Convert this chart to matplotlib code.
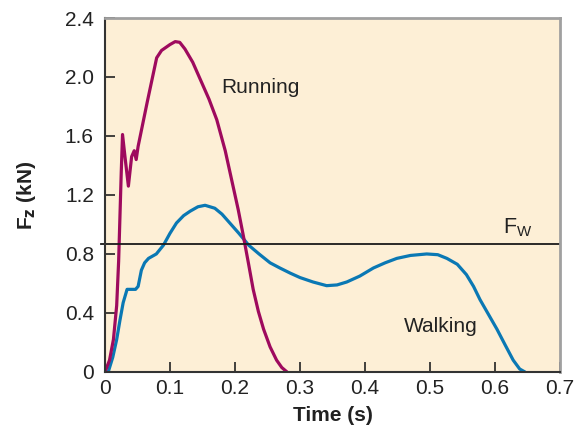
import matplotlib
matplotlib.use("Agg")
from matplotlib import pyplot as plt

plt.rcParams['font.family'] = ['Liberation Sans', 'DejaVu Sans']

# data (time in s, force in kN)
run_t = [0.0, 0.007, 0.013, 0.018, 0.021, 0.023, 0.025, 0.027, 0.031, 0.036, 0.041, 0.045,
         0.048, 0.051, 0.065, 0.0795, 0.087, 0.1, 0.108, 0.115, 0.123, 0.135, 0.146, 0.16,
         0.172, 0.185, 0.197, 0.205, 0.213, 0.221, 0.228, 0.236, 0.244, 0.254, 0.264, 0.272, 0.28]
run_f = [0.0, 0.08, 0.22, 0.45, 0.75, 1.05, 1.35, 1.61, 1.45, 1.26, 1.46, 1.50,
         1.44, 1.53, 1.83, 2.13, 2.18, 2.22, 2.24, 2.235, 2.19, 2.10, 1.99, 1.85,
         1.71, 1.50, 1.26, 1.10, 0.92, 0.73, 0.56, 0.41, 0.29, 0.17, 0.08, 0.03, 0.0]

walk_t = [0.005, 0.012, 0.018, 0.023, 0.028, 0.034, 0.041, 0.047, 0.051, 0.056, 0.061, 0.067,
          0.079, 0.09, 0.1, 0.11, 0.121, 0.131, 0.143, 0.154, 0.169, 0.18, 0.192, 0.206,
          0.221, 0.237, 0.254, 0.269, 0.285, 0.3, 0.32, 0.341, 0.357, 0.372, 0.392, 0.413,
          0.431, 0.449, 0.47, 0.495, 0.512, 0.526, 0.542, 0.556, 0.567, 0.577, 0.59, 0.603,
          0.616, 0.628, 0.638, 0.646]
walk_f = [0.0, 0.1, 0.22, 0.35, 0.47, 0.56, 0.56, 0.56, 0.58, 0.69, 0.74, 0.77,
          0.80, 0.86, 0.94, 1.01, 1.06, 1.09, 1.12, 1.13, 1.11, 1.07, 1.01, 0.94,
          0.86, 0.80, 0.74, 0.705, 0.67, 0.64, 0.61, 0.585, 0.59, 0.61, 0.65, 0.705,
          0.74, 0.77, 0.79, 0.80, 0.795, 0.77, 0.73, 0.66, 0.58, 0.49, 0.39, 0.29,
          0.18, 0.08, 0.02, 0.0]

fw = 0.87

x_ticks = [0, 0.1, 0.2, 0.3, 0.4, 0.5, 0.6, 0.7]
x_labels = ['0', '0.1', '0.2', '0.3', '0.4', '0.5', '0.6', '0.7']
y_ticks = [0, 0.4, 0.8, 1.2, 1.6, 2.0, 2.4]
y_labels = ['0', '0.4', '0.8', '1.2', '1.6', '2.0', '2.4']

run_color = '#9e0a5e'
walk_color = '#0a78b4'
fs = 15

fig = plt.figure(figsize=(5.8, 4.34), dpi=100)
ax = fig.add_axes([0.181, 0.143, 0.7845, 0.8155])
ax.set_facecolor('#fdefd6')

ax.plot(walk_t, walk_f, color=walk_color, lw=2.3, solid_capstyle='round', solid_joinstyle='round')
ax.plot(run_t, run_f, color=run_color, lw=2.3, solid_capstyle='round', solid_joinstyle='round')
ax.plot([-0.006, 0.7], [fw, fw], color='#1a1a1a', lw=1.3, clip_on=False)

ax.set_xlim(0, 0.7)
ax.set_ylim(0, 2.4)
ax.set_xticks(x_ticks)
ax.set_xticklabels(x_labels)
ax.set_yticks(y_ticks)
ax.set_yticklabels(y_labels)
ax.tick_params(direction='in', length=7, width=1.2, labelsize=fs, colors='#222222')
ax.tick_params(axis='x', pad=5)
ax.tick_params(axis='y', pad=8)

for side in ['left', 'bottom']:
    ax.spines[side].set_color('#333333')
    ax.spines[side].set_linewidth(1.5)
for side in ['top', 'right']:
    ax.spines[side].set_color('#a0a0a0')
    ax.spines[side].set_linewidth(2)

ax.text(0.179, 1.93, 'Running', fontsize=fs, color='#222222', va='center')
ax.text(0.46, 0.31, 'Walking', fontsize=fs, color='#222222', va='center')
ax.text(0.612, 0.98, r'F$_\mathregular{W}$', fontsize=fs + 0.5, color='#222222', va='center')

ax.set_xlabel('Time (s)', fontsize=fs, fontweight='bold', color='#222222', labelpad=6)
ax.set_ylabel(r'F$_\mathbf{z}$ (kN)', fontsize=fs, fontweight='bold', color='#222222', labelpad=19)

fig.savefig('out.png', dpi=100)
